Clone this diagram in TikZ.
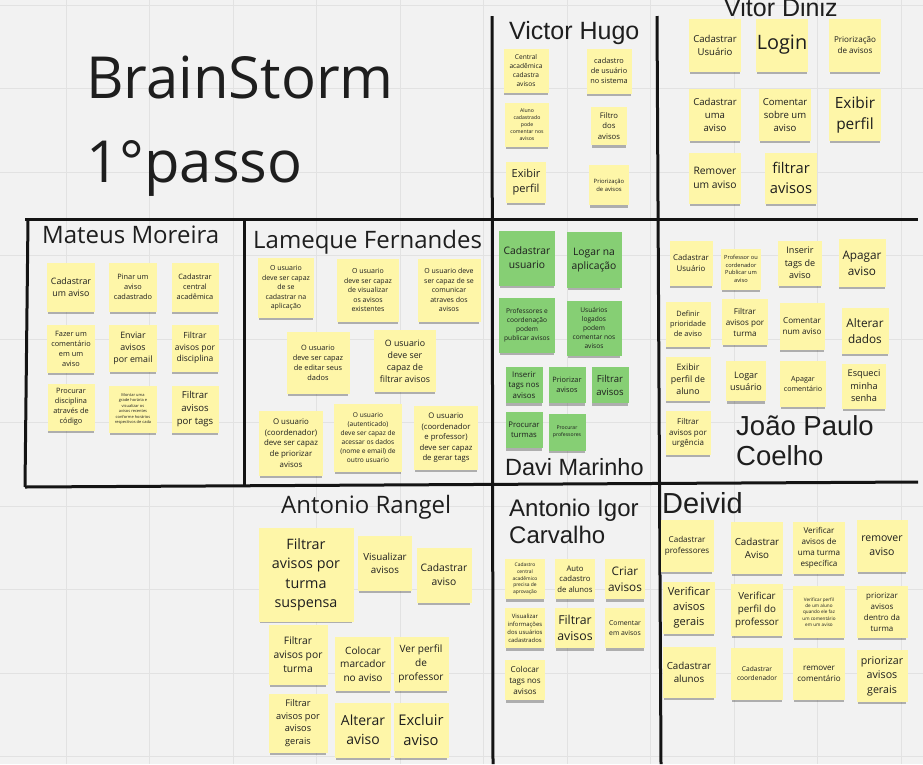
\documentclass[tikz,border=0pt]{standalone}
\usepackage{fontspec}
\setmainfont{Open Sans}
\newfontfamily\arialfont{Liberation Sans}
\usetikzlibrary{shadows}
\definecolor{board}{HTML}{F2F2F2}
\definecolor{gridline}{HTML}{E2E2E2}
\definecolor{stickyyellow}{HTML}{FEF6A8}
\definecolor{stickygreen}{HTML}{86CF74}
\definecolor{ink}{HTML}{1E1E1E}

\begin{document}
\begin{tikzpicture}[x=1pt,y=-1pt,
  sticky/.style={fill=stickyyellow,text=ink,align=center,inner sep=1pt,
    drop shadow={shadow xshift=0pt,shadow yshift=-3.5pt,shadow scale=.96,opacity=.28,fill=black}},
  greensticky/.style={sticky,fill=stickygreen},
  sz/.style 2 args={minimum width=#1,minimum height=#2},
  fs/.code={\pgfmathsetmacro\notefs{#1/1.36}%
    \edef\setnotefont{\noexpand\tikzset{font=\noexpand\fontsize{\notefs}{#1}\noexpand\selectfont}}\setnotefont},
  person/.style={text=ink,inner sep=0pt,anchor=base west,align=left},
  divider/.style={line width=3pt,black!92}]
\useasboundingbox (0,0) rectangle (923,764);
\clip (0,0) rectangle (923,764);
\fill[board] (0,0) rectangle (923,764);
\foreach \gx in {66,149.5,...,923} \draw[gridline] (\gx,0) -- (\gx,764);
\foreach \gy in {5,88.5,...,764} \draw[gridline] (0,\gy) -- (923,\gy);

% dividers
\coordinate (c1) at (492,16);
\coordinate (c2) at (493,764);
\coordinate (c3) at (657,16);
\coordinate (c4) at (661,764);
\coordinate (c5) at (25,219);
\coordinate (c6) at (918,219);
\coordinate (c7) at (25,487);
\coordinate (c8) at (918,482);
\coordinate (c9) at (28,219);
\coordinate (c10) at (244,219);
\coordinate (c11) at (244,485);
\draw[divider] (c1) -- (c2);
\draw[divider] (c3) -- (c4);
\draw[divider] (c5) -- (c6);
\draw[divider] (c7) -- (c8);
\draw[divider] (c9) -- (c7);
\draw[divider] (c10) -- (c11);

% titles
\node (brain) [person,font=\fontsize{58}{84}\selectfont] at (86,182) {BrainStorm\\1°passo};
\node (victor) [person,font=\arialfont\fontsize{25}{30}\selectfont] at (509,39) {Victor Hugo};
\node (vitor) [person,font=\arialfont\fontsize{25}{30}\selectfont] at (724,16) {Vitor Diniz};
\node (mateus) [person,font=\fontsize{24}{30}\selectfont] at (42,243) {Mateus Moreira};
\node (lameque) [person,font=\fontsize{24}{30}\selectfont] at (253,248) {Lameque Fernandes};
\node (davi) [person,font=\arialfont\fontsize{23.5}{30}\selectfont] at (505,475) {Davi Marinho};
\node (joao) [person,font=\arialfont\fontsize{27.5}{30}\selectfont] at (736,465) {João Paulo\\Coelho};
\node (rangel) [person,font=\fontsize{24}{30}\selectfont] at (281,513) {Antonio Rangel};
\node (igor) [person,font=\arialfont\fontsize{24}{26.5}\selectfont] at (509,543) {Antonio Igor\\Carvalho};
\node (deivid) [person,font=\arialfont\fontsize{29}{30}\selectfont] at (662,513) {Deivid};

% Victor Hugo
\node (vh1) [sticky,sz={45}{44},fs=9] at (526,71) {Central\\acadêmica\\cadastra\\avisos};
\node (vh2) [sticky,sz={45}{45},fs=10] at (609,71) {cadastro\\de usuário\\no sistema};
\node (vh3) [sticky,sz={44}{44},fs=7] at (527,125) {Aluno\\cadastrado\\pode\\comentar nos\\avisos};
\node (vh4) [sticky,sz={36}{38},fs=10.5] at (609,126) {Filtro\\dos\\avisos};
\node (vh5) [sticky,sz={40}{41},fs=15] at (526,182) {Exibir\\perfil};
\node (vh6) [sticky,sz={40}{40},fs=8] at (609,185) {Priorização\\de avisos};

% Vitor Diniz
\node (vd1) [sticky,sz={52}{53},fs=13] at (715,45) {Cadastrar\\Usuário};
\node (vd2) [sticky,sz={52}{53},fs=27] at (782,45) {Login};
\node (vd3) [sticky,sz={52}{53},fs=11] at (855,45) {Priorização\\de avisos};
\node (vd4) [sticky,sz={52}{52},fs=13] at (715,115) {Cadastrar\\uma\\aviso};
\node (vd5) [sticky,sz={52}{52},fs=13] at (785,115) {Comentar\\sobre um\\aviso};
\node (vd6) [sticky,sz={52}{52},fs=21] at (855,115) {Exibir\\perfil};
\node (vd7) [sticky,sz={52}{51},fs=14] at (715,178) {Remover\\um aviso};
\node (vd8) [sticky,sz={52}{51},fs=20] at (791,178) {filtrar\\avisos};

% Mateus Moreira
\node (mm1) [sticky,sz={48}{49},fs=12] at (71,287) {Cadastrar\\um aviso};
\node (mm2) [sticky,sz={48}{49},fs=10] at (133,287) {Pinar um\\aviso\\cadastrado};
\node (mm3) [sticky,sz={47}{49},fs=10] at (195,287) {Cadastrar\\central\\acadêmica};
\node (mm4) [sticky,sz={48}{48},fs=10] at (71,349) {Fazer um\\comentário\\em um\\aviso};
\node (mm5) [sticky,sz={48}{47},fs=12] at (133,348) {Enviar\\avisos\\por email};
\node (mm6) [sticky,sz={47}{47},fs=11.5] at (195,348) {Filtrar\\avisos por\\disciplina};
\node (mm7) [sticky,sz={47}{47},fs=10] at (71,407) {Procurar\\disciplina\\através de\\código};
\node (mm8) [sticky,sz={48}{47},fs=5.4] at (133,409) {Montar uma\\grade horária e\\visualizar os\\avisos recentes\\conforme horários\\respectivos de cada};
\node (mm9) [sticky,sz={47}{47},fs=13] at (195,409) {Filtrar\\avisos\\por tags};

% Lameque Fernandes
\node (lf1) [sticky,sz={56}{60},fs=9.5] at (286,288) {O usuario\\deve ser capaz\\de se\\cadastrar na\\aplicação};
\node (lf2) [sticky,sz={62}{63},fs=9.5] at (368,290) {O usuario\\deve ser capaz\\de visualizar\\os avisos\\existentes};
\node (lf3) [sticky,sz={63}{63},fs=9.5] at (449,290) {O usuario deve\\ser capaz de se\\comunicar\\atraves dos\\avisos};
\node (lf4) [sticky,sz={63}{62},fs=10] at (318,363) {O usuario\\deve ser capaz\\de editar seus\\dados};
\node (lf5) [sticky,sz={62}{62},fs=12] at (405,361) {O usuario\\deve ser\\capaz de\\filtrar avisos};
\node (lf6) [sticky,sz={64}{65},fs=10.7] at (291,443) {O usuario\\(coordenador)\\deve ser capaz\\de priorizar\\avisos};
\node (lf7) [sticky,sz={68}{68},fs=9] at (368,438) {O usuario\\(autenticado)\\deve ser capaz de\\acessar os dados\\(nome e email) de\\outro usuario};
\node (lf8) [sticky,sz={64}{64},fs=10.5] at (446,438) {O usuario\\(coordenador\\e professor)\\deve ser capaz\\de gerar tags};

% Davi Marinho
\node (dm1) [greensticky,sz={56}{55},fs=14] at (527,258) {Cadastrar\\usuario};
\node (dm2) [greensticky,sz={55}{56},fs=14] at (594,260) {Logar na\\aplicação};
\node (dm3) [greensticky,sz={56}{55},fs=9] at (527,325) {Professores e\\coordenação\\podem\\publicar avisos};
\node (dm4) [greensticky,sz={55}{55},fs=9] at (594,328) {Usuários\\logados\\podem\\comentar nos\\avisos};
\node (dm5) [greensticky,sz={37}{36},fs=10.7] at (524,385) {Inserir\\tags nos\\avisos};
\node (dm6) [greensticky,sz={37}{36},fs=10] at (567,385) {Priorizar\\avisos};
\node (dm7) [greensticky,sz={37}{36},fs=13] at (610,385) {Filtrar\\avisos};
\node (dm8) [greensticky,sz={37}{36},fs=10.5] at (524,430) {Procurar\\turmas};
\node (dm9) [greensticky,sz={37}{37},fs=7] at (567,432) {Procurar\\professores};

% Joao Paulo Coelho
\node (jp1) [sticky,sz={43}{45},fs=10.7] at (691,263) {Cadastrar\\Usuário};
\node (jp2) [sticky,sz={40}{41},fs=7.7] at (741,269) {Professor ou\\cordenador\\Publicar um\\aviso};
\node (jp3) [sticky,sz={44}{45},fs=12.3] at (800,263) {Inserir\\tags de\\aviso};
\node (jp4) [sticky,sz={47}{48},fs=16] at (862,263) {Apagar\\aviso};
\node (jp5) [sticky,sz={45}{45},fs=10] at (688,324) {Definir\\prioridade\\de aviso};
\node (jp6) [sticky,sz={46}{46},fs=11] at (745,322) {Filtrar\\avisos por\\turma};
\node (jp7) [sticky,sz={45}{47},fs=11] at (802,326) {Comentar\\num aviso};
\node (jp8) [sticky,sz={47}{46},fs=16] at (865,331) {Alterar\\dados};
\node (jp9) [sticky,sz={45}{44},fs=12] at (688,379) {Exibir\\perfil de\\aluno};
\node (jp10) [sticky,sz={40}{40},fs=12.3] at (746,381) {Logar\\usuário};
\node (jp11) [sticky,sz={46}{46},fs=9.7] at (803,384) {Apagar\\comentário};
\node (jp12) [sticky,sz={44}{45},fs=12.5] at (864,386) {Esqueci\\minha\\senha};
\node (jp13) [sticky,sz={45}{44},fs=10.8] at (688,433) {Filtrar\\avisos por\\urgência};

% Antonio Rangel
\node (ar1) [sticky,sz={95}{94},fs=19.5] at (306,575) {Filtrar\\avisos por\\turma\\suspensa};
\node (ar2) [sticky,sz={54}{55},fs=13.3] at (385,563) {Visualizar\\avisos};
\node (ar3) [sticky,sz={55}{55},fs=14] at (444,575) {Cadastrar\\aviso};
\node (ar4) [sticky,sz={59}{60},fs=14] at (298,655) {Filtrar\\avisos por\\turma};
\node (ar5) [sticky,sz={56}{54},fs=13.7] at (363,664) {Colocar\\marcador\\no aviso};
\node (ar6) [sticky,sz={55}{54},fs=13.7] at (421,664) {Ver perfil\\de\\professor};
\node (ar7) [sticky,sz={59}{59},fs=12.5] at (298,723) {Filtrar\\avisos por\\avisos\\gerais};
\node (ar8) [sticky,sz={56}{55},fs=19] at (363,730) {Alterar\\aviso};
\node (ar9) [sticky,sz={55}{55},fs=20] at (421,730) {Excluir\\aviso};

% Antonio Igor Carvalho
\node (ai1) [sticky,sz={40}{40},fs=6.7] at (525,579) {Cadastro\\central\\acadêmico\\precisa de\\aprovação};
\node (ai2) [sticky,sz={40}{40},fs=10.5] at (575,579) {Auto\\cadastro\\de alunos};
\node (ai3) [sticky,sz={40}{40},fs=16] at (625,579) {Criar\\avisos};
\node (ai4) [sticky,sz={40}{40},fs=8] at (525,628) {Visualizar\\informações\\dos usuários\\cadastrados};
\node (ai5) [sticky,sz={40}{40},fs=16.7] at (575,628) {Filtrar\\avisos};
\node (ai6) [sticky,sz={40}{40},fs=9.3] at (625,628) {Comentar\\em avisos};
\node (ai7) [sticky,sz={40}{40},fs=11] at (525,680) {Colocar\\tags nos\\avisos};

% Deivid
\node (dv1) [sticky,sz={53}{52},fs=11] at (687,546) {Cadastrar\\professores};
\node (dv2) [sticky,sz={52}{52},fs=13.3] at (757,548) {Cadastrar\\Aviso};
\node (dv3) [sticky,sz={52}{52},fs=11] at (819,548) {Verificar\\avisos de\\uma turma\\específica};
\node (dv4) [sticky,sz={51}{52},fs=14.3] at (882,546) {remover\\aviso};
\node (dv5) [sticky,sz={52}{52},fs=15] at (689,608) {Verificar\\avisos\\gerais};
\node (dv6) [sticky,sz={52}{52},fs=13.3] at (757,610) {Verificar\\perfil do\\professor};
\node (dv7) [sticky,sz={52}{52},fs=6.3] at (819,612) {Verificar perfil\\de um aluno\\quando ele faz\\um comentário\\em um aviso};
\node (dv8) [sticky,sz={51}{52},fs=10.8] at (882,612) {priorizar\\avisos\\dentro da\\turma};
\node (dv9) [sticky,sz={53}{51},fs=13.3] at (689,672) {Cadastrar\\alunos};
\node (dv10) [sticky,sz={52}{52},fs=9] at (757,674) {Cadastrar\\coordenador};
\node (dv11) [sticky,sz={52}{52},fs=11] at (819,674) {remover\\comentário};
\node (dv12) [sticky,sz={51}{52},fs=14.5] at (882,676) {priorizar\\avisos\\gerais};
\end{tikzpicture}
\end{document}
